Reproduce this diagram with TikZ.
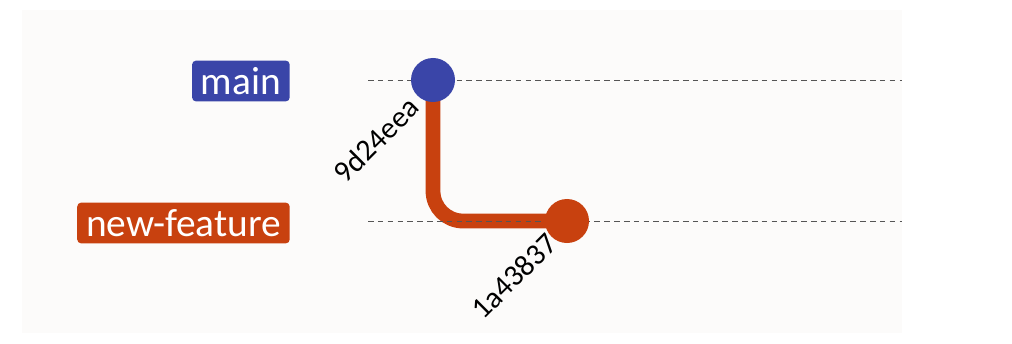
\documentclass[tikz,border=0pt]{standalone}
\usepackage{fontspec}
\setmainfont{Carlito}
\usetikzlibrary{positioning}

\definecolor{mainblue}{HTML}{3A45A8}
\definecolor{featorange}{HTML}{C8410F}
\definecolor{panelgray}{HTML}{FCFBFA}
\definecolor{laneline}{HTML}{555555}

\pgfdeclarelayer{back}
\pgfsetlayers{back,main}

\begin{document}
\begin{tikzpicture}[
    x=0.025cm, y=-0.025cm,
    branchtag/.style={rectangle, rounded corners=0.1cm, minimum height=1.02cm, inner xsep=0.22cm, text=white, font=\fontsize{28}{30}\selectfont, anchor=east},
    commit/.style={circle, minimum size=1.1cm, inner sep=0pt},
    lane/.style={dashed, laneline, line width=0.6pt, dash pattern=on 4pt off 3pt},
    branchline/.style={featorange, line width=0.37cm, rounded corners=0.75cm},
    hashlabel/.style={rotate=45, font=\fontsize{21.5}{24}\selectfont}
]

    % ================= CANVAS =================
    \useasboundingbox (0,0) rectangle (1012,343);
    \begin{pgfonlayer}{back}
        \fill[white] (0,0) rectangle (1012,343);
        \fill[panelgray] (22,10) rectangle (902,333);
    \end{pgfonlayer}

    % ================= BRANCH TAGS =================
    \node[branchtag, fill=mainblue] (mainTag) at (290,81) {main};
    \node[branchtag, fill=featorange] (featTag) at (290,223) {new-feature};

    % ================= LANES =================
    \coordinate (mainL) at (368,80);
    \coordinate (mainR) at (902,80);
    \coordinate (featL) at (368,221);
    \coordinate (featR) at (902,221);
    \draw[lane] (mainL) -- (mainR);
    \draw[lane] (featL) -- (featR);

    % ================= COMMITS =================
    \node[commit, fill=mainblue] (c9d) at (433,80) {};
    \node[commit, fill=featorange] (c1a) at (567,221) {};

    \node[hashlabel] (h9d) at (376,140) {9d24eea};
    \node[hashlabel] (h1a) at (514,276) {1a43837};

    % branch off main, kept under the commit dots
    \begin{pgfonlayer}{back}
        \draw[branchline] (c9d.center) |- (c1a.center);
    \end{pgfonlayer}

\end{tikzpicture}
\end{document}
